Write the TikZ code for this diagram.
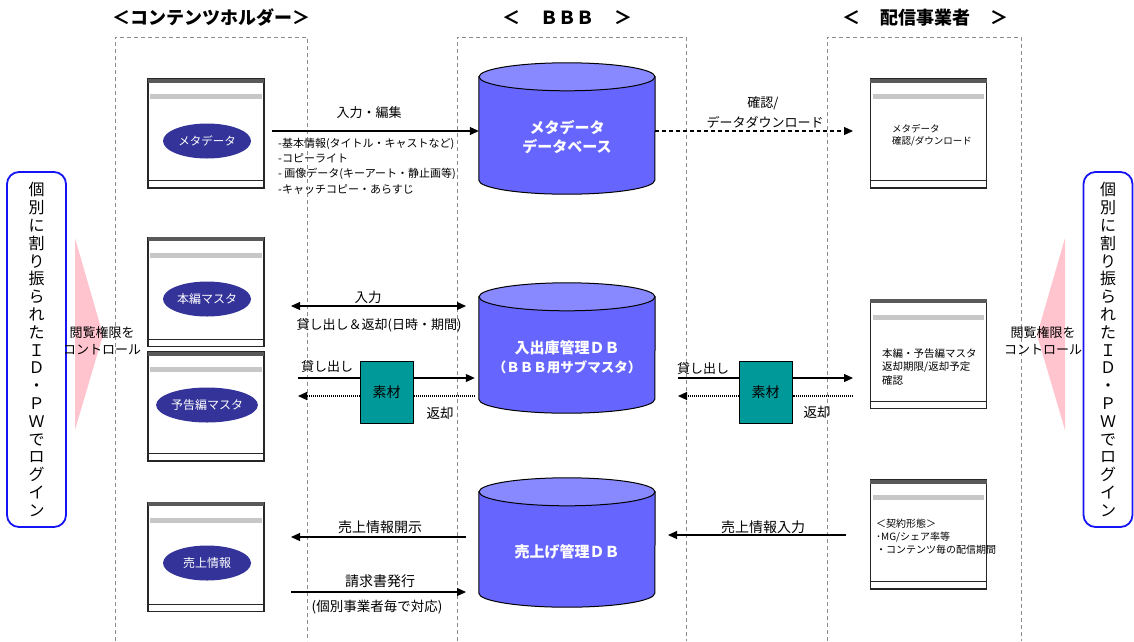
\documentclass[tikz,border=0pt]{standalone}
\usepackage{fontspec}
\setmainfont{Noto Sans CJK JP}
\usetikzlibrary{arrows.meta,shapes.geometric}
\definecolor{ovalblue}{RGB}{51,51,153}
\definecolor{dbside}{RGB}{102,102,255}
\definecolor{dbtop}{RGB}{136,136,255}
\definecolor{teal2}{RGB}{0,153,153}
\definecolor{pinkish}{RGB}{255,196,206}
\definecolor{panelblue}{RGB}{20,20,245}
\newcommand\winbox[3]{%
  \node[win] (#1) at (#2,#3) {};
  \fill[black!65] ([xshift=0.6pt,yshift=-0.6pt]#1.north west) rectangle ([xshift=-0.6pt,yshift=-4.5pt]#1.north east);
  \fill[black!22] ([xshift=3pt,yshift=-16pt]#1.north west) rectangle ([xshift=-3pt,yshift=-21pt]#1.north east);
  \draw[black!85,line width=1.1pt] ([yshift=8pt]#1.south west) -- ([yshift=8pt]#1.south east);
}
\newcommand\dbcyl[5]{%
  \node[dbnode, minimum height=#5pt] (#1) at (#2,{(#3+#4)/2}) {};
  \filldraw[fill=dbside,draw=black,line width=1pt] (#1.north west) -- (#1.south west)
     arc[start angle=180,end angle=360,x radius=88pt,y radius=14pt] -- (#1.north east) -- cycle;
  \filldraw[fill=dbtop,draw=black,line width=1pt] (#1.north) ellipse[x radius=88pt,y radius=14pt];
}
\begin{document}
\begin{tikzpicture}[x=1pt,y=-1pt,
  col/.style={draw=black!45,dash pattern=on 4pt off 3pt,line width=0.8pt},
  win/.style={draw=black!85,line width=1.3pt,fill=white,minimum width=116pt,minimum height=109pt,inner sep=0pt},
  oval/.style={ellipse,fill=ovalblue,text=white,minimum width=88pt,minimum height=35pt,inner sep=0pt,font=\fontsize{12}{13}\selectfont},
  dbnode/.style={rectangle,inner sep=0pt,minimum width=176pt},
  dbtext/.style={text=white,align=center,font=\bfseries\fontsize{15}{19}\selectfont,inner sep=0pt},
  hdr/.style={font=\bfseries\fontsize{18}{20}\selectfont,inner sep=0pt},
  lbl/.style={font=\fontsize{13.5}{15}\selectfont,inner sep=0pt},
  small/.style={font=\fontsize{10}{13}\selectfont,align=left,anchor=west,inner sep=0pt},
  mat/.style={draw=black,line width=1pt,fill=teal2,minimum width=53pt,minimum height=62pt,inner sep=0pt,font=\fontsize{14}{15}\selectfont},
  arr/.style={-{Triangle[length=9pt,width=8pt]},line width=1.1pt},
  darr/.style={{Triangle[length=9pt,width=8pt]}-{Triangle[length=9pt,width=8pt]},line width=1.1pt},
  dotarr/.style={-{Triangle[length=9pt,width=8pt]},line width=1.1pt,dash pattern=on 1pt off 1pt},
  panel/.style={draw=panelblue,line width=1.8pt,rounded corners=12pt,fill=white,align=center,inner sep=0pt,
     font=\fontsize{16}{17.8}\selectfont},
  ctl/.style={font=\fontsize{13}{17}\selectfont,align=center,inner sep=0pt}
]
\useasboundingbox (0,0) rectangle (1134,641);
% columns
\draw[col] (115,641) -- (115,37) -- (307,37) -- (307,641);
\draw[col] (457,641) -- (457,37) -- (686,37) -- (686,641);
\draw[col] (827,641) -- (827,37) -- (1021,37) -- (1021,641);
% headers
\node[hdr] (h1) at (211,18) {＜コンテンツホルダー＞};
\node[hdr] (h2) at (567,18) {＜\hspace{20pt}ＢＢＢ\hspace{20pt}＞};
\node[hdr] (h3) at (925,18) {＜\hspace{20pt}配信事業者\hspace{20pt}＞};
% side triangles
\fill[pinkish] (75,238) -- (103,335) -- (75,430) -- cycle;
\fill[pinkish] (1065,238) -- (1037,335) -- (1065,430) -- cycle;
% side panels
\node[panel,minimum width=59pt,minimum height=355pt] (lp) at (36.5,349.5)
  {個\\別\\に\\割\\り\\振\\ら\\れ\\た\\Ｉ\\Ｄ\\・\\Ｐ\\Ｗ\\で\\ロ\\グ\\イ\\ン};
\node[panel,minimum width=49pt,minimum height=355pt] (rp) at (1108,349.5)
  {個\\別\\に\\割\\り\\振\\ら\\れ\\た\\Ｉ\\Ｄ\\・\\Ｐ\\Ｗ\\で\\ロ\\グ\\イ\\ン};
% left windows
\winbox{w1}{206}{133.5}
\winbox{w2}{206}{292}
\winbox{w3}{206}{406.5}
\winbox{w4}{206}{557}
\node[oval,font=\fontsize{11.5}{12}\selectfont] (e1) at (207,141) {メタデータ};
\node[oval] (e2) at (207,299) {本編マスタ};
\node[oval] (e3) at (207,405) {予告編マスタ};
\node[oval] (e4) at (207,563) {売上情報};
% right windows
\winbox{r1}{928.5}{133.5}
\winbox{r2}{928.5}{354}
\winbox{r3}{928.5}{534.5}
\node[small,font=\fontsize{9.5}{12}\selectfont] (rt1) at (892,135) {メタデータ\\確認/ダウンロード};
\node[small,font=\fontsize{10.5}{13.5}\selectfont] (rt2) at (882,366.5) {本編・予告編マスタ\\返却期限/返却予定\\確認};
\node[small,font=\fontsize{10}{13}\selectfont] (rt3) at (876,537) {＜契約形態＞\\･MG/シェア率等\\・コンテンツ毎の配信期間};
% control labels
\node[ctl] (c1) at (102,341) {閲覧権限を\\コントロール};
\node[ctl] (c2) at (1043,341) {閲覧権限を\\コントロール};
% databases
\dbcyl{db1}{567}{77}{180}{103}
\dbcyl{db2}{567}{297}{399}{102}
\dbcyl{db3}{567}{492}{593}{101}
\node[dbtext] (t1) at (567,137.5) {メタデータ\\データベース};
\node[dbtext] (t2) at (567,357) {{\fontsize{15}{16}\selectfont 入出庫管理ＤＢ}\\{\fontsize{13.5}{16}\selectfont （ＢＢＢ用サブマスタ）}};
\node[dbtext] (t3) at (567,552) {売上げ管理ＤＢ};
% row 1
\coordinate (a1s) at (272,131);
\draw[arr] (a1s) -- (a1s -| db1.west);
\node[lbl,font=\fontsize{13}{15}\selectfont] (l1) at (369,113) {入力・編集};
\node[font=\fontsize{11}{15.3}\selectfont,align=left,anchor=west,inner sep=0pt] (bl) at (278,166)
 {-基本情報(タイトル・キャストなど)\\-コピーライト\\- 画像データ(キーアート・静止画等)\\-キャッチコピー・あらすじ};
\coordinate (a2e) at (853,131);
\draw[arr,dash pattern=on 4pt off 3pt] (a2e -| db1.east) -- (a2e);
\node[lbl,font=\fontsize{13}{15}\selectfont] (l2a) at (763,103) {確認/};
\node[lbl,font=\fontsize{13}{15}\selectfont] (l2b) at (765,122) {データダウンロード};
% row 2 left
\coordinate (b1s) at (291,306);
\coordinate (b1e) at (466,306);
\draw[darr] (b1s) -- (b1e);
\node[lbl] (l3) at (368,297) {入力};
\node[lbl,font=\fontsize{13}{15}\selectfont] (l4) at (379,325) {貸し出し＆返却(日時・期間)};
\node[mat] (sz1) at (386.5,392) {素材};
\coordinate (b2s) at (298,378);
\coordinate (b3e) at (298,396);
\draw[line width=1.1pt] (b2s) -- (b2s -| sz1.west);
\draw[arr] (b2s -| sz1.east) -- ([xshift=-4pt]b2s -| db2.west);
\draw[line width=1.1pt,dash pattern=on 1pt off 1pt] ([xshift=-4pt]b3e -| db2.west) -- (b3e -| sz1.east);
\draw[dotarr] (b3e -| sz1.west) -- (b3e);
\node[lbl,font=\fontsize{13}{15}\selectfont] (l5) at (327,367) {貸し出し};
\node[lbl] (l6) at (440,413) {返却};
% row 2 right
\node[mat] (sz2) at (765.5,392) {素材};
\coordinate (c2s) at (678,378);
\coordinate (c2e) at (853,378);
\coordinate (c3s) at (853,396);
\coordinate (c3e) at (678,396);
\draw[line width=1.1pt] (c2s) -- (c2s -| sz2.west);
\draw[arr] (c2s -| sz2.east) -- (c2e);
\draw[line width=1.1pt,dash pattern=on 1pt off 1pt] (c3s) -- (c3s -| sz2.east);
\draw[dotarr] (c3e -| sz2.west) -- (c3e);
\node[lbl,font=\fontsize{13}{15}\selectfont] (l7) at (703,369) {貸し出し};
\node[lbl] (l8) at (817,412) {返却};
% row 3
\coordinate (d1s) at (466,537);
\coordinate (d1e) at (291,537);
\draw[arr] (d1s) -- (d1e);
\node[lbl,font=\fontsize{14}{15}\selectfont] (l9) at (380,527) {売上情報開示};
\coordinate (d2s) at (291,592);
\coordinate (d2e) at (466,592);
\draw[arr] (d2s) -- (d2e);
\node[lbl,font=\fontsize{14}{15}\selectfont] (l10) at (380,581) {請求書発行};
\node[lbl,font=\fontsize{13.5}{15}\selectfont] (l11) at (377,607) {(個別事業者毎で対応)};
\coordinate (d3s) at (846,535);
\coordinate (d3e) at (668,535);
\draw[arr] (d3s) -- (d3e);
\node[lbl,font=\fontsize{14}{15}\selectfont] (l12) at (763,527) {売上情報入力};
\end{tikzpicture}
\end{document}
